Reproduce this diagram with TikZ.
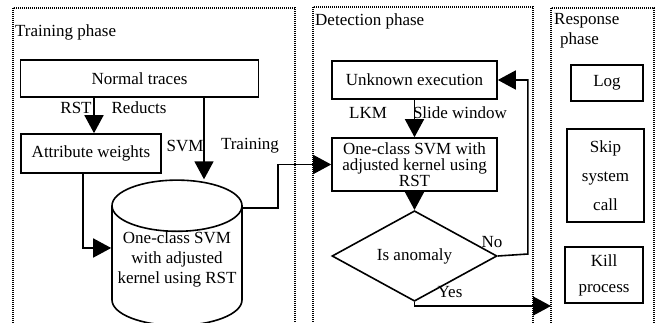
\documentclass[tikz,border=0pt]{standalone}
\usepackage{fontspec}
\setmainfont{Liberation Serif}
\usetikzlibrary{shapes.geometric, arrows.meta}

\tikzset{
    phase/.style={draw, line width=1.2pt, dash pattern=on 1.2pt off 0.8pt},
    block/.style={draw, line width=1.6pt, align=center, inner sep=1pt},
    flow/.style={line width=1.6pt, -{Triangle[width=19pt, length=18pt]}},
    tag/.style={inner sep=0pt}
}

\begin{document}
\begin{tikzpicture}[x=1pt, y=-1pt, font=\fontsize{17}{20}\selectfont]
    \useasboundingbox (0,0) rectangle (663,323);
    \clip (0,0) rectangle (663,323);

    % Draw the three phase frames
    \draw[phase] (13,8) rectangle (295,340);
    \draw[phase] (313,7) rectangle (533,340);
    \draw[phase] (551,8) rectangle (654,340);
    \node[tag, anchor=west] (trainlbl) at (15,32) {Training phase};
    \node[tag, anchor=west] (detectlbl) at (315,21) {Detection phase};
    \node[tag, anchor=north west, align=left] (resplbl) at (554,13) {Response\\\hspace*{6pt}phase};

    % Training phase
    \node[block, minimum width=238pt, minimum height=37pt] (traces) at (139.5,78.5) {Normal traces};
    \node[block, minimum width=140pt, minimum height=39pt] (weights) at (91,153.5) {Attribute weights};
    \node[draw, line width=1.6pt, cylinder, shape border rotate=90, aspect=0.43,
          minimum width=130pt, minimum height=130pt, align=center, inner sep=0pt]
          (model) at (177,266) {One-class SVM\\with adjusted\\kernel using RST\\[-4pt]};

    % Detection phase
    \node[block, minimum width=165pt, minimum height=38pt] (unknown) at (414.5,80) {Unknown execution};
    \node[block, minimum width=165pt, minimum height=53pt, font=\fontsize{17}{16}\selectfont]
          (detector) at (414.5,164.5) {One-class SVM with\\adjusted kernel using\\RST};
    \node[draw, line width=1.6pt, diamond, minimum width=165pt, minimum height=62pt, inner sep=0pt]
          (check) at (414.5,256) {Is anomaly};

    % Response phase
    \node[block, minimum width=72pt, minimum height=36pt] (log) at (607,83) {Log};
    \node[block, minimum width=77pt, minimum height=93pt, font=\fontsize{17}{29}\selectfont]
          (skip) at (605.5,175.5) {Skip\\system\\call};
    \node[block, minimum width=78pt, minimum height=56pt, font=\fontsize{17}{26}\selectfont]
          (kill) at (604,275) {Kill\\process};

    % Connectors
    \draw[flow] ([xshift=3pt]weights.north |- traces.south) -- ([xshift=3pt]weights.north);
    \draw[flow] ([xshift=27pt]model.north |- traces.south) -- ([xshift=27pt]model.north);
    \draw[flow] ([xshift=-8pt]weights.south) |- ([yshift=18pt]model.west);
    \draw[flow] ([yshift=58pt]model.east) -- ++(35,0) |- (detector.west);
    \draw[flow] (unknown.south) -- (detector.north);
    \draw[flow] (detector.south) -- (check.north);
    \draw[flow] (check.east) -- ++(30,-2) |- (unknown.east);
    \coordinate (yesend) at (551,306);
    \draw[flow] (check.south) |- (yesend);

    % Connector labels
    \node[tag] (rstlbl) at (76,108) {RST};
    \node[tag] (reductlbl) at (139,108) {Reducts};
    \node[tag] (svmlbl) at (185,146) {SVM};
    \node[tag] (trainlbl2) at (250,146) {Training};
    \node[tag] (lkmlbl) at (368,113) {LKM};
    \node[tag] (slidelbl) at (460,113) {Slide window};
    \node[tag] (nolbl) at (492,242) {No};
    \node[tag] (yeslbl) at (450,292) {Yes};
\end{tikzpicture}
\end{document}
